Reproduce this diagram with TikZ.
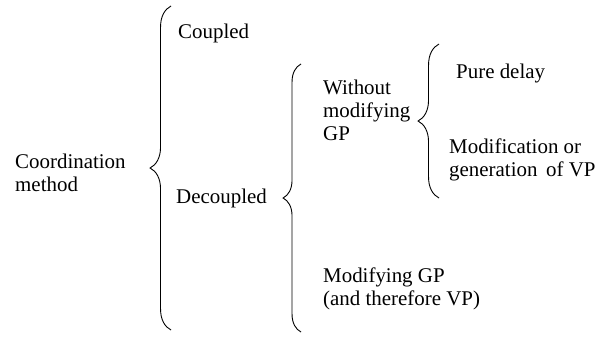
\documentclass[tikz,border=0pt]{standalone}
\usepackage{fontspec}
\setmainfont{Liberation Serif}
\usetikzlibrary{decorations.pathreplacing}
\begin{document}
\begin{tikzpicture}[x=1bp,y=-1bp,
  lbl/.style={anchor=west,align=left,inner sep=0pt,font=\rmfamily\fontsize{21}{23}\selectfont},
  bracestyle/.style={draw,line width=0.9bp,decorate,decoration={brace,amplitude=#1}}]
\useasboundingbox (0,0) rectangle (612,336);
\node[lbl] (coord) at (15,173) {Coordination\\method};
\node[lbl] (coupled) at (178,33) {Coupled};
\node[lbl] (decoupled) at (176,198) {Decoupled};
\node[lbl] (without) at (323,110) {Without\\modifying\\GP};
\node[lbl] (pure) at (456,73) {Pure delay};
\node[lbl] (modif) at (449,159.5) {Modification or\\generation\, of VP};
\node[lbl] (modgp) at (323,288.5) {Modifying GP\\(and therefore VP)};
\coordinate (b1s) at (171,330);
\coordinate (b1e) at (171,6);
\coordinate (b2s) at (301,332);
\coordinate (b2e) at (301,64);
\coordinate (b3s) at (439,198);
\coordinate (b3e) at (439,44);
\draw[bracestyle=21] (b1s) -- (b1e);
\draw[bracestyle=18] (b2s) -- (b2e);
\draw[bracestyle=21] (b3s) -- (b3e);
\end{tikzpicture}
\end{document}
